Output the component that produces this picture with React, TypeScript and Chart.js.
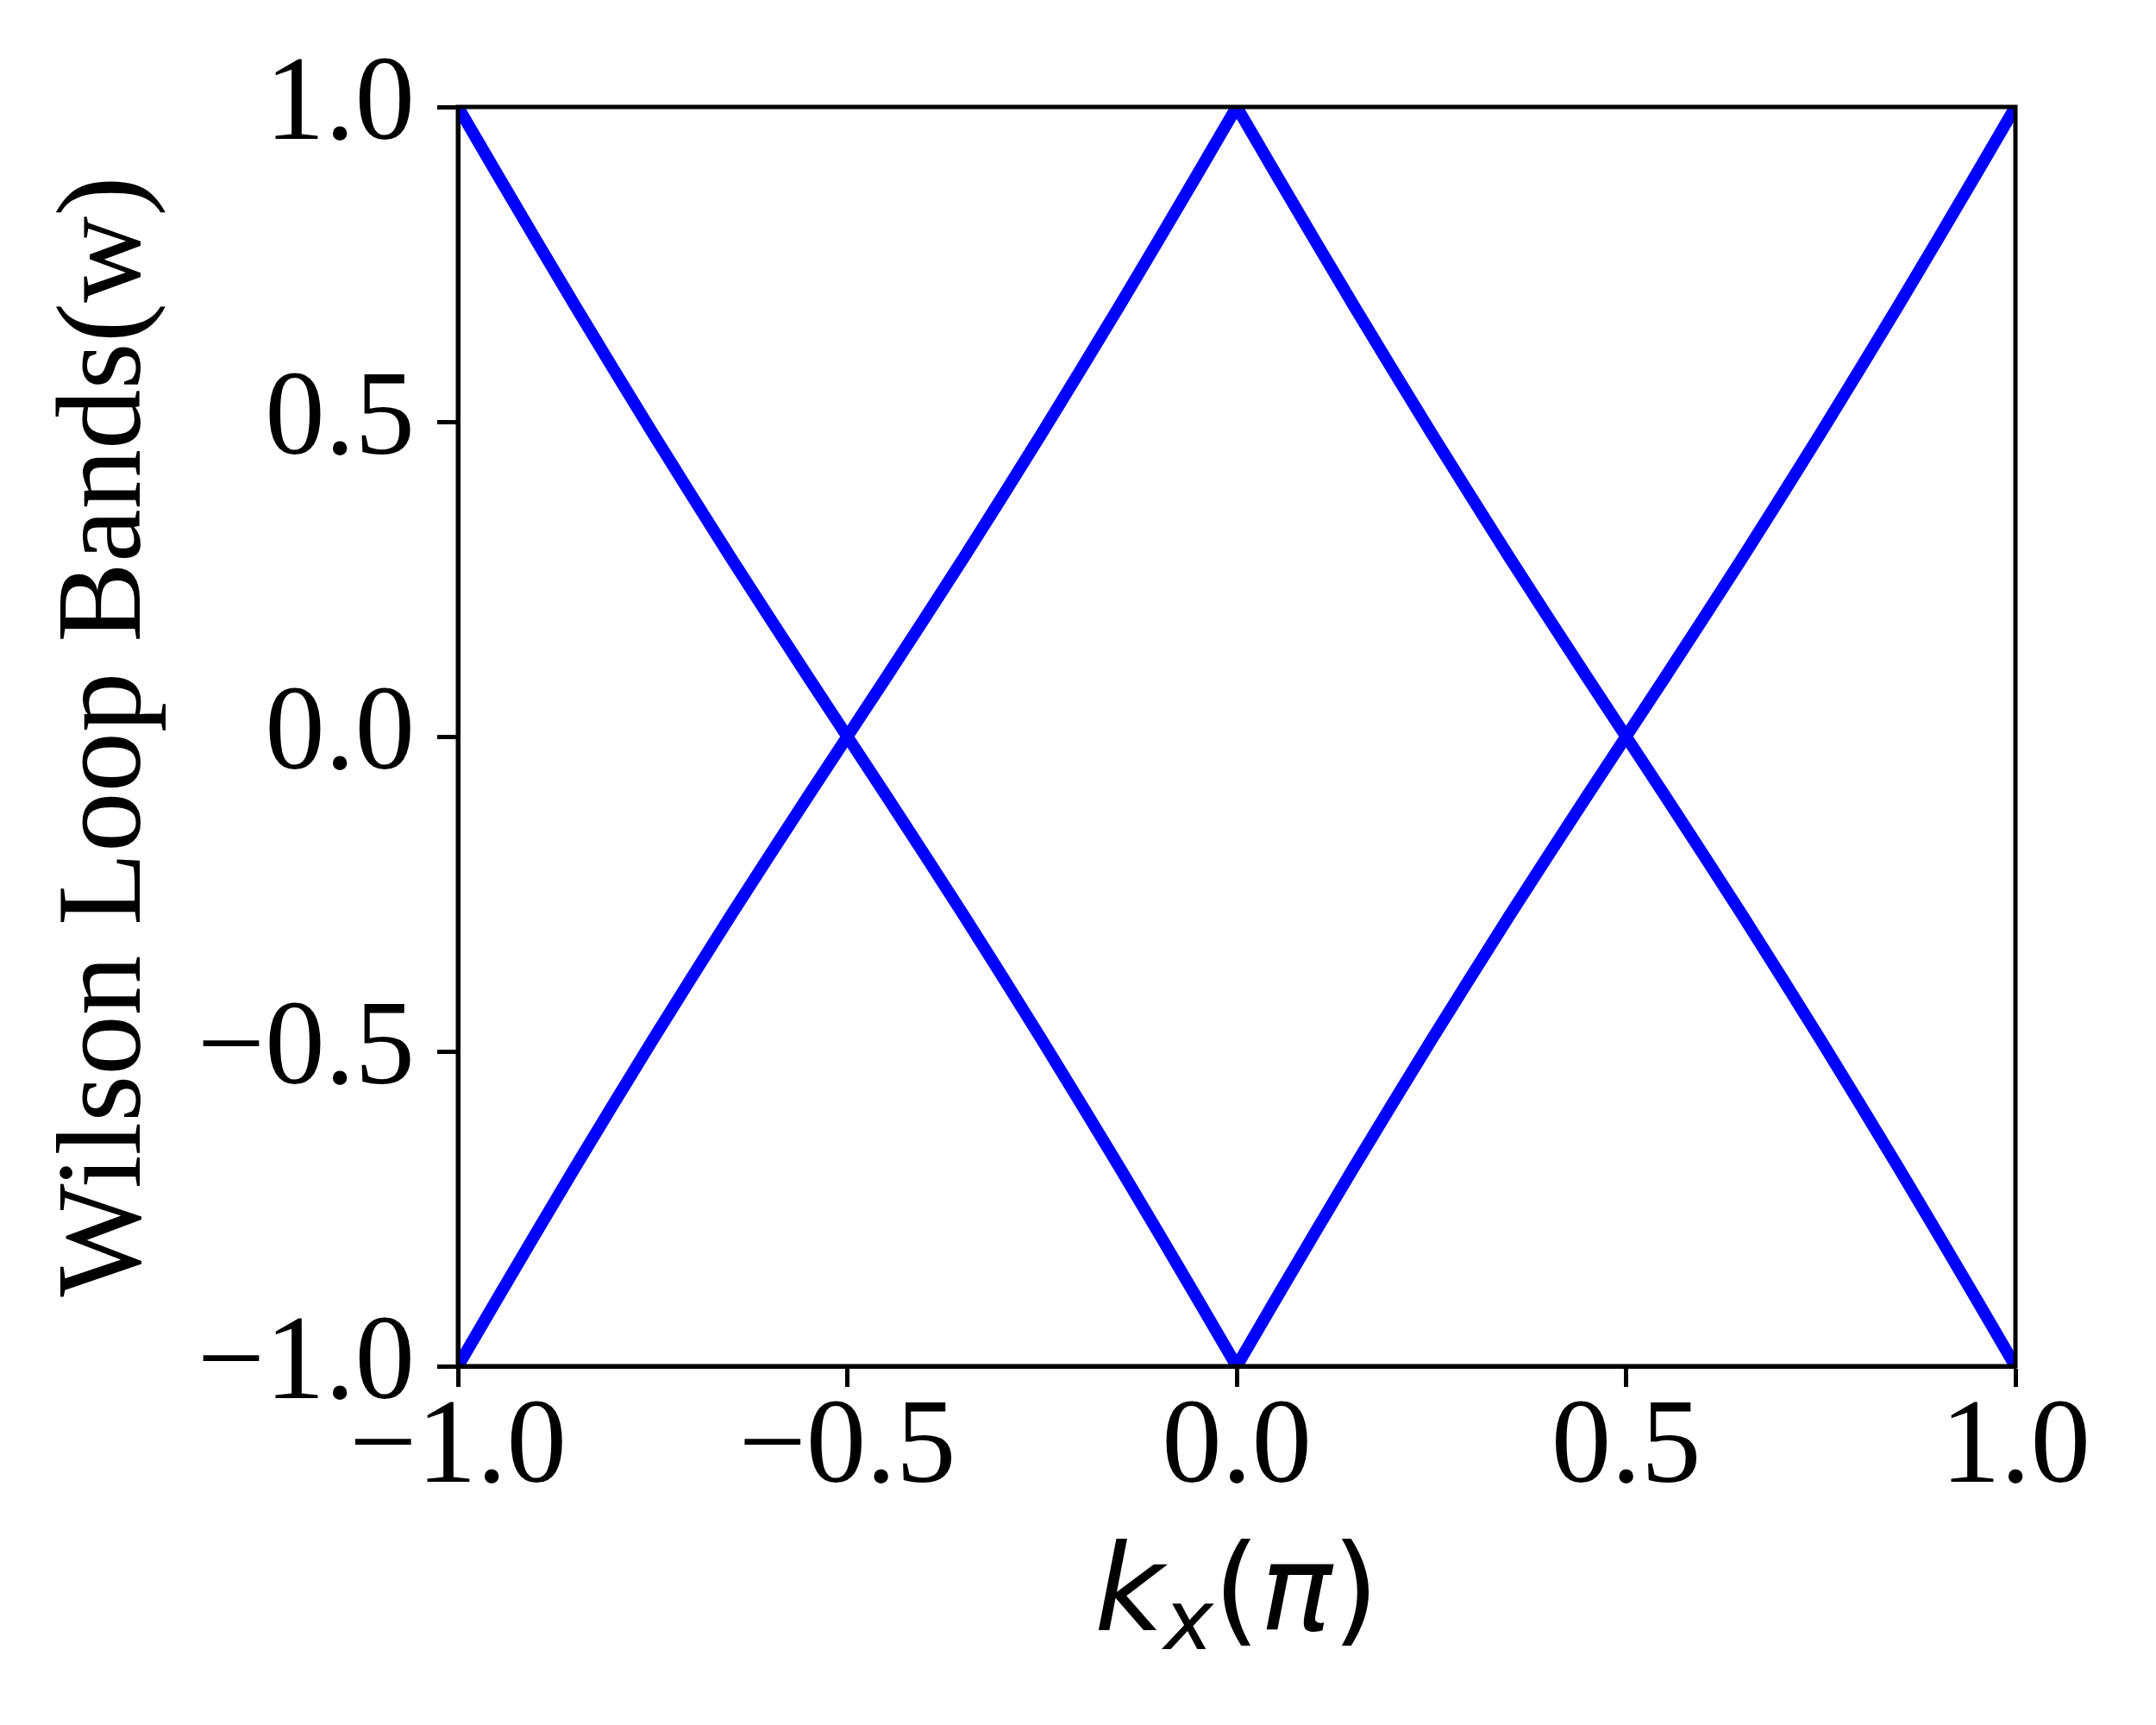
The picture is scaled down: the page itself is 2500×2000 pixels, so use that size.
import React, { useEffect, useRef } from 'react';
import { Chart, registerables } from 'chart.js';

Chart.register(...registerables);

// ---- data ----
const kValues = [
  -1.0, -0.95, -0.9, -0.85, -0.8, -0.75, -0.7, -0.65, -0.6, -0.55,
  -0.5, -0.45, -0.4, -0.35, -0.3, -0.25, -0.2, -0.15, -0.1, -0.05,
  0.0, 0.05, 0.1, 0.15, 0.2, 0.25, 0.3, 0.35, 0.4, 0.45,
  0.5, 0.55, 0.6, 0.65, 0.7, 0.75, 0.8, 0.85, 0.9, 0.95, 1.0,
];
const bandA = [
  1.0, 0.894, 0.789, 0.685, 0.583, 0.482, 0.383, 0.285, 0.189, 0.094,
  0.0, -0.094, -0.189, -0.285, -0.383, -0.482, -0.583, -0.685, -0.789, -0.894,
  -1.0, -0.894, -0.789, -0.685, -0.583, -0.482, -0.383, -0.285, -0.189, -0.094,
  0.0, 0.094, 0.189, 0.285, 0.383, 0.482, 0.583, 0.685, 0.789, 0.894, 1.0,
];
const bandB = [
  -1.0, -0.894, -0.789, -0.685, -0.583, -0.482, -0.383, -0.285, -0.189, -0.094,
  0.0, 0.094, 0.189, 0.285, 0.383, 0.482, 0.583, 0.685, 0.789, 0.894,
  1.0, 0.894, 0.789, 0.685, 0.583, 0.482, 0.383, 0.285, 0.189, 0.094,
  0.0, -0.094, -0.189, -0.285, -0.383, -0.482, -0.583, -0.685, -0.789, -0.894, -1.0,
];
const xTicks = [-1.0, -0.5, 0.0, 0.5, 1.0];
const yTicks = [-1.0, -0.5, 0.0, 0.5, 1.0];
const yAxisTitle = 'Wilson Loop Bands(w)';
const xAxisTitleParts = [
  { text: 'k', italic: true, sub: false },
  { text: 'x', italic: true, sub: true },
  { text: '(', italic: false, sub: false },
  { text: 'π', italic: true, sub: false },
  { text: ')', italic: false, sub: false },
];

const SERIF = '"Liberation Serif", "Times New Roman", serif';
const SANS = '"DejaVu Sans", sans-serif';
const FONT_PX = 139;

const fmt = (v: number) => (v < 0 ? '\u2212' : '') + Math.abs(v).toFixed(1);

const framePlugin = {
  id: 'frameAndTitle',
  afterDatasetsDraw(chart: any) {
    const { ctx, chartArea: a } = chart;
    ctx.save();
    ctx.strokeStyle = '#000000';
    ctx.lineWidth = 5;
    ctx.strokeRect(a.left, a.top, a.right - a.left, a.bottom - a.top);
    ctx.restore();
  },
  afterDraw(chart: any) {
    const { ctx, chartArea: a } = chart;
    ctx.save();
    ctx.fillStyle = '#000000';
    ctx.textBaseline = 'alphabetic';
    ctx.textAlign = 'left';
    const fontFor = (p: any) =>
      `${p.italic ? 'italic ' : ''}${p.sub ? Math.round(FONT_PX * 0.7) : FONT_PX}px ${SANS}`;
    let total = 0;
    const widths = xAxisTitleParts.map((p) => {
      ctx.font = fontFor(p);
      const w = ctx.measureText(p.text).width;
      total += w;
      return w;
    });
    const baseline = 1890;
    let x = (a.left + a.right) / 2 - total / 2;
    xAxisTitleParts.forEach((p, i) => {
      ctx.font = fontFor(p);
      ctx.fillText(p.text, x, baseline + (p.sub ? 22 : 0));
      x += widths[i];
    });
    ctx.restore();
  },
};

export default function App() {
  const ref = useRef<HTMLCanvasElement | null>(null);
  useEffect(() => {
    if (!ref.current) return;
    const mkData = (ys: number[]) => kValues.map((k, i) => ({ x: k, y: ys[i] }));
    const lineStyle = {
      showLine: true,
      borderColor: '#0000ff',
      backgroundColor: '#0000ff',
      borderWidth: 14,
      pointRadius: 0,
      pointHoverRadius: 0,
      borderJoinStyle: 'round' as const,
      borderCapStyle: 'butt' as const,
      tension: 0,
      clip: 0,
      fill: false,
    };
    const chart = new Chart(ref.current, {
      type: 'scatter',
      data: {
        datasets: [
          { label: 'band 1', data: mkData(bandA), ...lineStyle },
          { label: 'band 2', data: mkData(bandB), ...lineStyle },
        ],
      },
      options: {
        animation: false,
        responsive: false,
        devicePixelRatio: 1,
        events: [],
        layout: { padding: { left: 0, top: 124, right: 163, bottom: 0 } },
        plugins: {
          legend: { display: false },
          tooltip: { enabled: false },
          title: { display: false },
        },
        scales: {
          x: {
            type: 'linear',
            position: 'bottom',
            min: -1,
            max: 1,
            afterBuildTicks: (scale: any) => {
              scale.ticks = xTicks.map((v) => ({ value: v }));
            },
            afterFit: (scale: any) => {
              scale.height = 2000 - 1584;
            },
            grid: {
              display: true,
              drawOnChartArea: false,
              drawTicks: true,
              tickLength: 24,
              tickWidth: 5,
              tickColor: '#000000',
            },
            border: { display: true, color: '#000000', width: 5 },
            ticks: {
              autoSkip: false,
              maxRotation: 0,
              minRotation: 0,
              padding: 4,
              color: '#000000',
              font: { family: SERIF, size: FONT_PX, lineHeight: 1 },
              callback: (v: any) => fmt(Number(v)),
            },
          },
          y: {
            type: 'linear',
            position: 'left',
            min: -1,
            max: 1,
            afterBuildTicks: (scale: any) => {
              scale.ticks = yTicks.map((v) => ({ value: v }));
            },
            afterFit: (scale: any) => {
              scale.width = 531;
            },
            grid: {
              display: true,
              drawOnChartArea: false,
              drawTicks: true,
              tickLength: 24,
              tickWidth: 5,
              tickColor: '#000000',
            },
            border: { display: true, color: '#000000', width: 5 },
            ticks: {
              autoSkip: false,
              padding: 26,
              color: '#000000',
              font: { family: SERIF, size: FONT_PX, lineHeight: 1 },
              callback: (v: any) => fmt(Number(v)),
            },
            title: {
              display: true,
              text: yAxisTitle,
              color: '#000000',
              font: { family: SERIF, size: FONT_PX, lineHeight: 1.2 },
              padding: { top: 42, bottom: 0 },
            },
          },
        },
      },
      plugins: [framePlugin],
    });
    return () => chart.destroy();
  }, []);
  return (
    <div style={{ position: 'fixed', left: 0, top: 0, width: 2500, height: 2000, background: '#ffffff' }}>
      <canvas ref={ref} width={2500} height={2000} style={{ display: 'block', width: 2500, height: 2000 }} />
    </div>
  );
}
